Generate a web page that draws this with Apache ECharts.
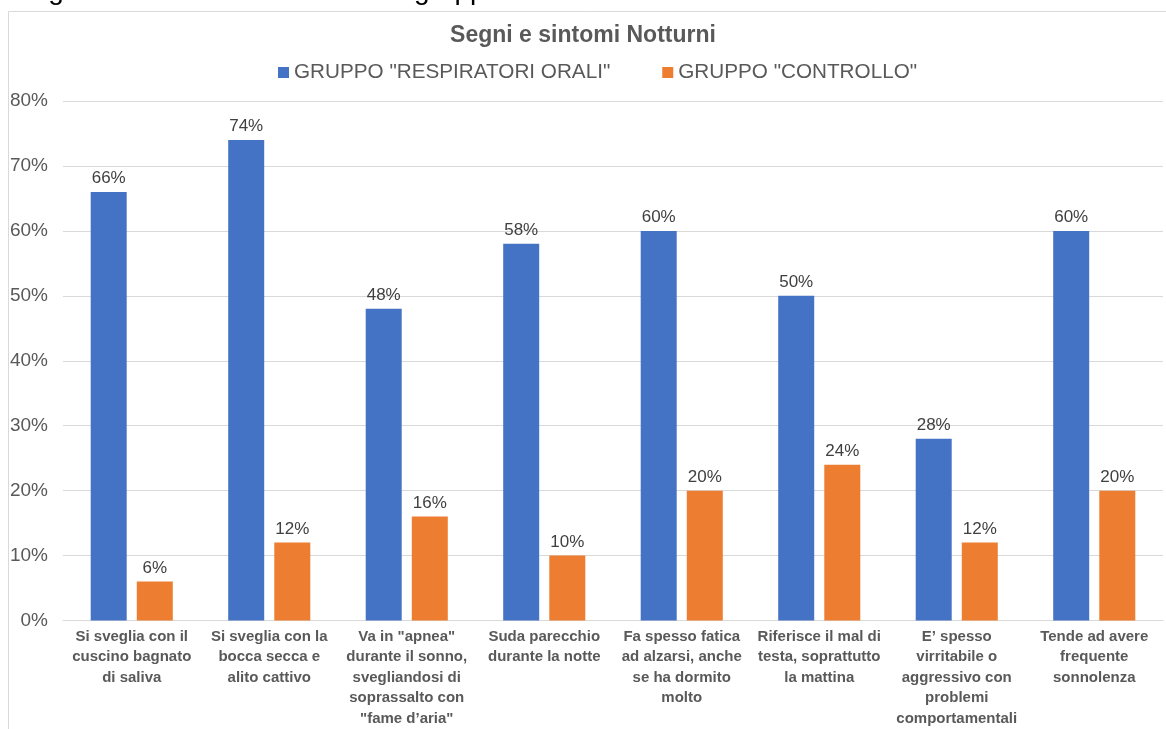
<!DOCTYPE html>
<html>
<head>
<meta charset="utf-8">
<script src="https://cdn.jsdelivr.net/npm/echarts@6/dist/echarts.min.js"></script>
<style>html,body{margin:0;padding:0;background:#fff;}#c{width:1166px;height:729px;}</style>
</head>
<body>
<div id="c"></div>
<script>
const categories = [
  "Si sveglia con il\ncuscino bagnato\ndi saliva",
  "Si sveglia con la\nbocca secca e\nalito cattivo",
  "Va in \"apnea\"\ndurante il sonno,\nsvegliandosi di\nsoprassalto con\n\"fame d\u2019aria\"",
  "Suda parecchio\ndurante la notte",
  "Fa spesso fatica\nad alzarsi, anche\nse ha dormito\nmolto",
  "Riferisce il mal di\ntesta, soprattutto\nla mattina",
  "E\u2019 spesso\nvirritabile o\naggressivo con\nproblemi\ncomportamentali",
  "Tende ad avere\nfrequente\nsonnolenza"
];
const seriesNames = ["GRUPPO \"RESPIRATORI ORALI\"", "GRUPPO \"CONTROLLO\""];
const respiratoriOrali = [66, 74, 48, 58, 60, 50, 28, 60];
const controllo = [6, 12, 16, 10, 20, 24, 12, 20];
const yTicks = [0, 10, 20, 30, 40, 50, 60, 70, 80];

const chart = echarts.init(document.getElementById('c'));
const font = 'Liberation Sans, Arial, sans-serif';
chart.setOption({
  animation: false,
  backgroundColor: '#fff',
  textStyle: { fontFamily: font },
  graphic: [
    { type: 'rect', shape: { x: 8.5, y: 11.5, width: 1200, height: 800 },
      style: { fill: 'none', stroke: '#d9d9d9', lineWidth: 1 }, z: -1 },
    { type: 'text', x: 14, y: -9,
      style: { text: 'Segni e sintomi notturni nei due gruppi a confronto', fontSize: 28, fill: '#000', fontFamily: font, verticalAlign: 'middle', align: 'left' } }
  ],
  title: {
    text: 'Segni e sintomi Notturni', left: 'center', top: 19,
    textStyle: { fontSize: 23, fontWeight: 'bold', color: '#595959', fontFamily: font }
  },
  legend: {
    top: 57, left: 273, itemWidth: 11, itemHeight: 11, itemGap: 52,
    icon: 'rect',
    textStyle: { fontSize: 20.7, color: '#595959', fontFamily: font },
    data: seriesNames
  },
  grid: { left: 63, right: 3, top: 101, bottom: 106, containLabel: false },
  xAxis: {
    type: 'category', data: categories,
    axisLine: { lineStyle: { color: '#d9d9d9' } },
    axisTick: { show: false },
    axisLabel: { interval: 0, fontSize: 15, fontWeight: 'bold', color: '#595959', lineHeight: 20.5, margin: 6, fontFamily: font }
  },
  yAxis: {
    type: 'value', min: 0, max: 80, interval: 10,
    axisLine: { show: false }, axisTick: { show: false },
    splitLine: { lineStyle: { color: '#d9d9d9' } },
    axisLabel: { formatter: v => yTicks.includes(v) ? v + '%' : '', fontSize: 19, color: '#595959', margin: 15, fontFamily: font }
  },
  series: [
    { name: seriesNames[0], type: 'bar', data: respiratoriOrali, barWidth: 36, barGap: '28%',
      itemStyle: { color: '#4472C4' },
      label: { show: true, position: 'top', formatter: '{c}%', fontSize: 17, color: '#404040', distance: 5, fontFamily: font } },
    { name: seriesNames[1], type: 'bar', data: controllo, barWidth: 36,
      itemStyle: { color: '#ED7D31' },
      label: { show: true, position: 'top', formatter: '{c}%', fontSize: 17, color: '#404040', distance: 5, fontFamily: font } }
  ]
});
</script>
</body>
</html>
